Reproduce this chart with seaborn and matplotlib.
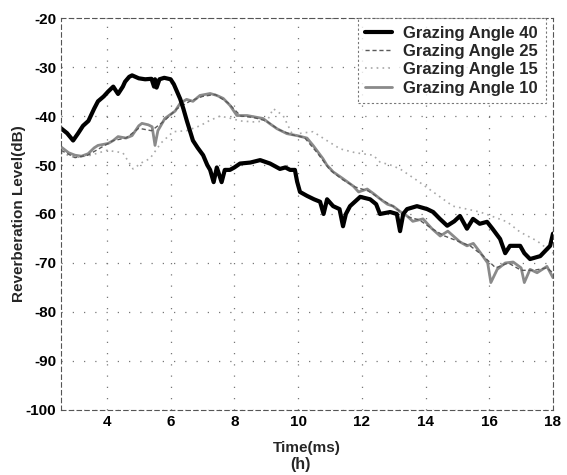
import numpy as np
import pandas as pd
import seaborn as sns
import matplotlib
matplotlib.use("Agg")
import matplotlib.pyplot as plt

# ---------------- data ----------------
labels = ["Grazing Angle 40", "Grazing Angle 25", "Grazing Angle 15", "Grazing Angle 10"]

t40 = [2.56, 2.75, 2.94, 3.1, 3.25, 3.42, 3.6, 3.72, 3.9, 4.04, 4.2, 4.35, 4.5, 4.57, 4.7, 4.79,
       5.0, 5.2, 5.4, 5.48, 5.51, 5.56, 5.65, 5.8, 6.0, 6.1, 6.2, 6.3, 6.4, 6.51, 6.7, 6.85,
       7.02, 7.15, 7.24, 7.35, 7.45, 7.6, 7.7, 7.86, 8.0, 8.18, 8.5, 8.81, 9.12, 9.43, 9.6,
       9.75, 9.9, 9.97, 10.06, 10.28, 10.5, 10.69, 10.8, 10.91, 11.1, 11.3, 11.41, 11.5, 11.63,
       11.95, 12.26, 12.45, 12.57, 12.89, 13.1, 13.2, 13.3, 13.42, 13.73, 14.05, 14.24, 14.45,
       14.68, 14.9, 15.08, 15.3, 15.49, 15.7, 15.93, 16.1, 16.34, 16.5, 16.65, 16.97, 17.1,
       17.28, 17.6, 17.91, 18.0]
v40 = [-42.5, -43.5, -45, -43.5, -42, -41, -38.5, -37, -36, -35, -34, -35.5, -34, -33, -32, -31.7,
       -32.3, -32.5, -32.4, -34, -32.5, -34.2, -32.5, -32.2, -32.5, -33.5, -35, -36.5, -38.5, -41,
       -45, -46.5, -48, -50, -51, -53.5, -50.5, -53.5, -51, -51, -50.5, -49.7, -49.5, -49, -49.7,
       -50.8, -50.5, -51, -51, -53.4, -55.5, -56.3, -57, -57.5, -60, -57, -58.4, -59, -62.5, -60,
       -58.4, -56.5, -57, -58, -60, -59.6, -60, -63.5, -60, -59, -58.4, -59, -59.6, -61, -62.4,
       -61.5, -60.4, -63, -61, -62, -61.6, -63, -65.1, -68, -66.5, -66.5, -68, -69.2, -68.6,
       -66.5, -64]

t25 = [2.56, 3.0, 3.4, 3.8, 4.2, 4.6, 5.0, 5.4, 5.8, 6.2, 6.6, 7.0, 7.4, 7.8, 8.2, 8.6, 9.0, 9.4,
       9.8, 10.2, 10.6, 11.0, 11.4, 11.8, 12.2, 12.6, 13.0, 13.4, 13.8, 14.2, 14.6, 15.0, 15.4,
       15.8, 16.2, 16.6, 17.0, 17.4, 17.8, 18.0]
v25 = [-47, -48.5, -48, -46.5, -45, -44.5, -42.5, -43, -41, -38.5, -37, -36, -35.6, -37.3, -40,
       -40.3, -41, -42.8, -43.8, -44.4, -47.5, -51, -53, -54.5, -55.3, -57, -58.5, -60.5, -61.2,
       -63, -64.5, -65.5, -66.5, -68.5, -71, -70, -71.5, -71.5, -71, -72]

t15 = [2.56, 3.0, 3.5, 4.0, 4.5, 4.82, 5.1, 5.35, 5.7, 6.08, 6.5, 6.92, 7.2, 7.55, 7.9, 8.18, 8.6,
       9.03, 9.22, 9.53, 9.84, 10.1, 10.47, 10.9, 11.32, 11.8, 12.36, 12.57, 12.9, 13.2, 13.7,
       14.24, 14.86, 15.3, 15.71, 16.1, 16.56, 16.97, 17.5, 18.0]
v15 = [-47.5, -48.5, -48, -47, -47.5, -50.8, -49.5, -48.7, -45.5, -43.2, -43, -42, -41, -40,
       -40.5, -41, -41.2, -41, -38.5, -39.9, -44, -43.5, -43.2, -45, -46.7, -47.5, -48, -49.4,
       -50, -50.8, -53, -55.5, -58.4, -59, -59.6, -60.5, -61.6, -63.7, -65.5, -68]

t10 = [2.56, 2.8, 3.0, 3.2, 3.41, 3.6, 3.72, 4.04, 4.2, 4.35, 4.6, 4.79, 5.0, 5.1, 5.3, 5.42, 5.51,
       5.6, 5.82, 6.14, 6.3, 6.5, 6.7, 6.92, 7.24, 7.45, 7.65, 7.86, 8.08, 8.4, 8.65, 8.9, 9.1,
       9.34, 9.65, 9.97, 10.28, 10.47, 10.78, 10.9, 11.1, 11.41, 11.73, 11.9, 12.17, 12.4, 12.57,
       12.8, 12.98, 13.2, 13.42, 13.6, 13.92, 14.2, 14.46, 14.7, 15.08, 15.3, 15.5, 15.71, 15.95,
       16.05, 16.25, 16.5, 16.75, 17.0, 17.1, 17.28, 17.5, 17.81, 18.0]
v10 = [-46.3, -47.5, -48, -48.2, -47.7, -46.5, -46, -45.6, -45, -44.2, -44.5, -44, -42, -41.5,
       -41.8, -42.2, -46, -43, -40.5, -39, -37.4, -36.6, -37, -35.8, -35.4, -35.8, -36.4, -37.8,
       -39.9, -39.9, -40.2, -40.5, -41.5, -42.6, -43.6, -44, -44.5, -46, -48.7, -50, -51.4, -52.8,
       -54.3, -55.5, -54.9, -56, -56.9, -58, -58.4, -59.5, -60.4, -61.5, -61, -63, -64.5, -63.5,
       -65.7, -66.5, -66, -67.8, -70, -74, -71.3, -70, -69.8, -71, -74, -71.3, -72, -70.7, -73]

xticks = [4, 6, 8, 10, 12, 14, 16, 18]
yticks = [-100, -90, -80, -70, -60, -50, -40, -30, -20]

# ---------------- figure ----------------
sns.set_style("white")
plt.rcParams["font.family"] = ["Liberation Sans", "DejaVu Sans"]

fig = plt.figure(figsize=(5.67, 4.75), dpi=100)
ax = fig.add_axes([0.1076, 0.137, 0.8677, 0.825])

series = [
    (t10, v10, labels[3], dict(color="#8a8a8a", lw=2.0, ls="-")),
    (t15, v15, labels[2], dict(color="#a8a8a8", lw=1.2, ls=(0, (1, 2.5)))),
    (t25, v25, labels[1], dict(color="#5a5a5a", lw=1.0, ls=(0, (3, 2)))),
    (t40, v40, labels[0], dict(color="black", lw=3.0, ls="-")),
]
handles = {}
for t, v, lab, st in series:
    df = pd.DataFrame({"t": t, "v": v})
    sns.lineplot(data=df, x="t", y="v", ax=ax, color=st["color"], linewidth=st["lw"],
                 linestyle=st["ls"], label=lab, legend=False, estimator=None, sort=False)
    handles[lab] = ax.lines[-1]

ax.set_xlim(2.56, 18.0)
ax.set_ylim(-100, -20)
ax.set_xticks(xticks)
ax.set_yticks(yticks)
ax.set_xticklabels([str(x) for x in xticks], fontsize=11, fontweight="bold")
ax.set_yticklabels([str(y) for y in yticks], fontsize=11, fontweight="bold")
ax.tick_params(axis="both", length=2, pad=1.5, colors="black")
ax.set_xlabel("Time(ms)", fontsize=11, fontweight="bold", labelpad=9)
ax.set_ylabel("Reverberation Level(dB)", fontsize=11, fontweight="bold", labelpad=0)

ax.grid(True, color="#777777", linestyle=(0, (1, 8)), linewidth=0.9)
for s in ax.spines.values():
    s.set_color("#555555")
    s.set_linestyle((0, (4, 3)))
    s.set_linewidth(0.8)

leg = ax.legend([handles[l] for l in labels], labels, loc="upper right",
                bbox_to_anchor=(0.985, 1.0),
                prop={"weight": "bold", "size": 12}, frameon=True, fancybox=False,
                handlelength=1.6, borderaxespad=0.0, labelspacing=0.2,
                borderpad=0.45, handletextpad=0.7)
leg.get_frame().set_edgecolor("#555555")
leg.get_frame().set_linestyle((0, (2, 2)))
leg.get_frame().set_linewidth(0.8)

fig.text(0.53, 0.022, "(h)", ha="center", va="center", fontsize=11.5, fontweight="bold")

fig.savefig("out.png", dpi=100)
